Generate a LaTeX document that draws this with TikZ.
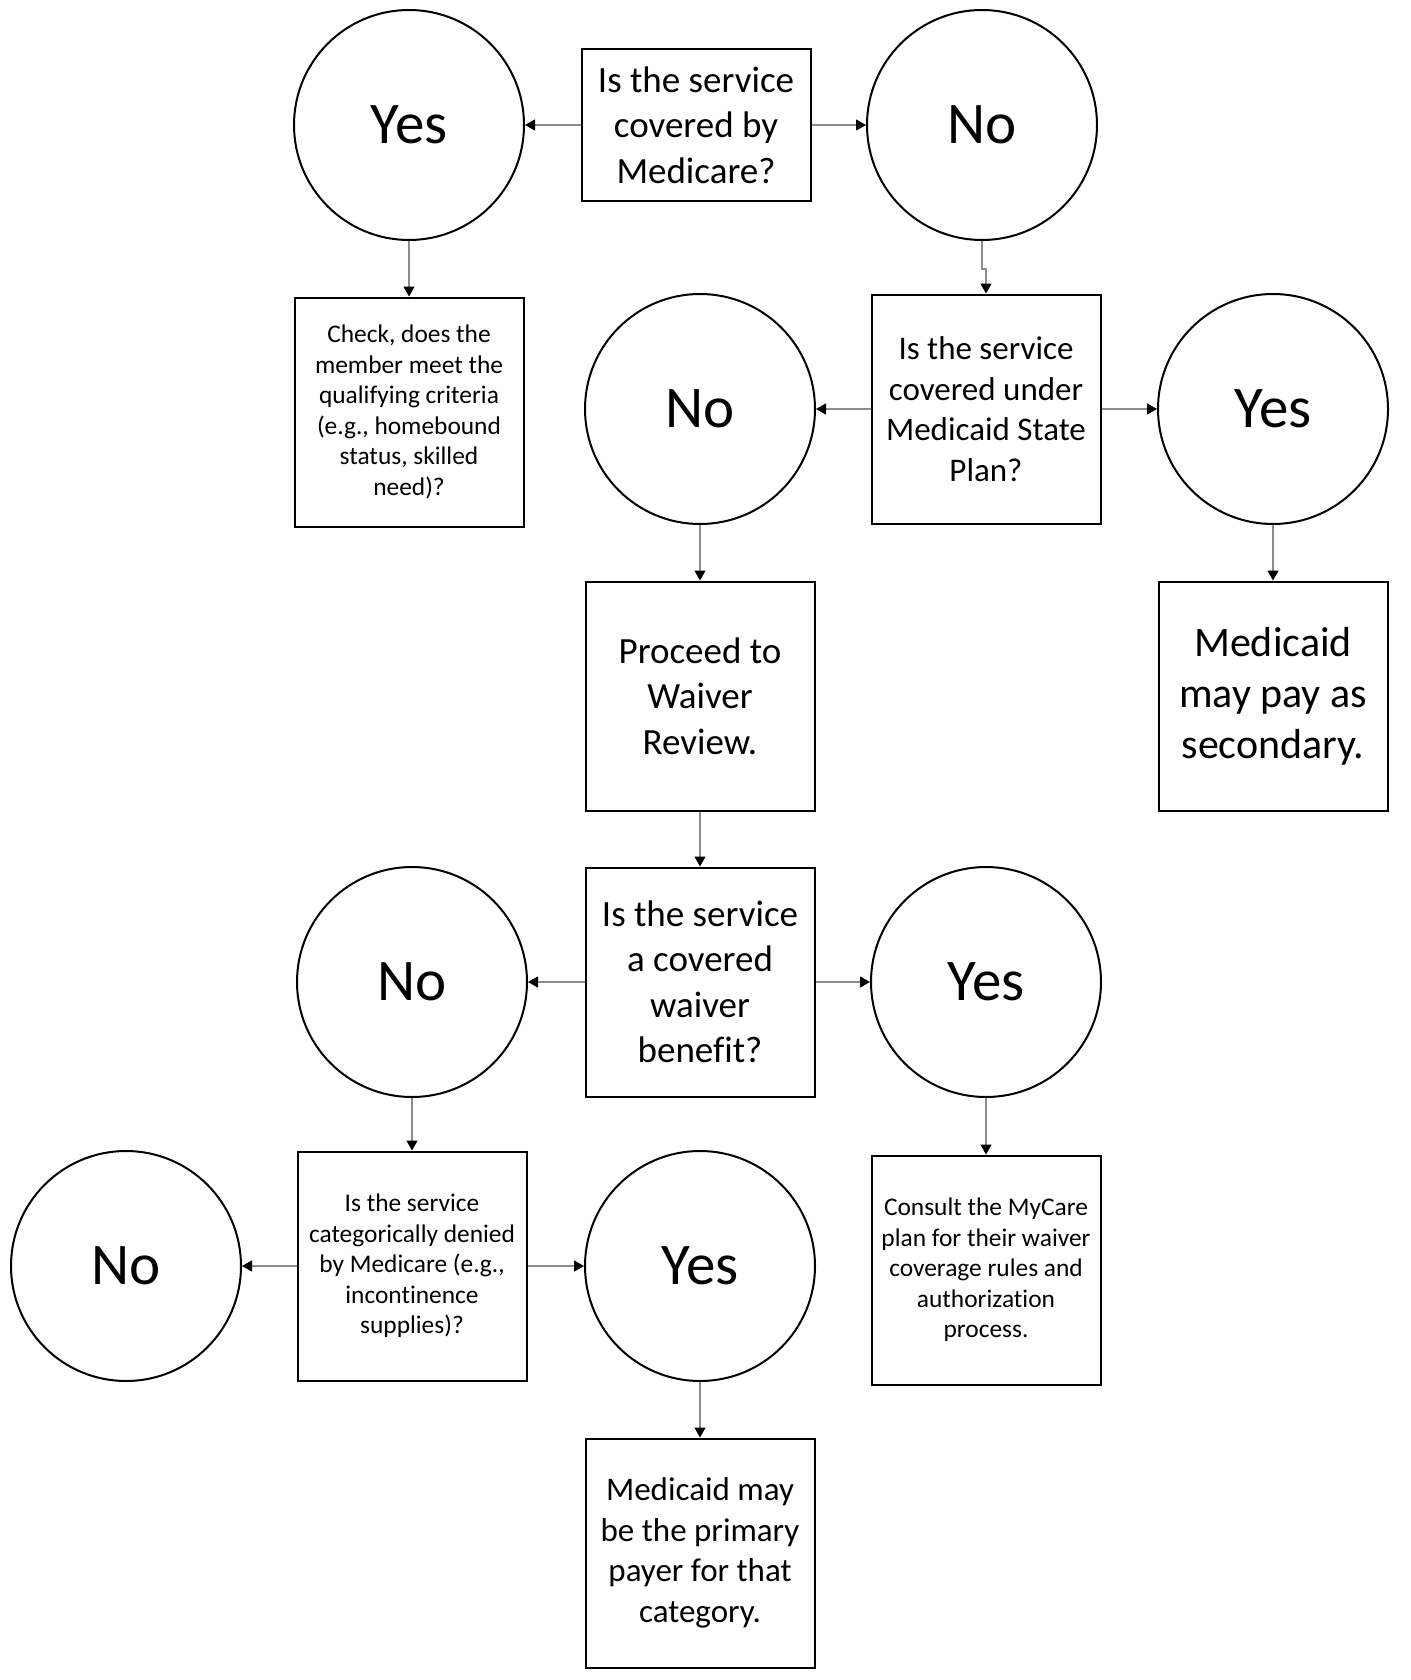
\documentclass[tikz,border=0pt]{standalone}
\usepackage{fontspec}
\setmainfont{Carlito}[Ligatures=NoCommon]
\usepackage{tikz}
\usetikzlibrary{arrows.meta, positioning}

\begin{document}
\begin{tikzpicture}[
    x=0.5pt, y=-0.5pt,
    ans/.style={circle, draw=black, line width=1pt, minimum size=115pt, inner sep=0pt, font=\fontsize{29.5}{35}\selectfont},
    qbox/.style={rectangle, draw=black, line width=1pt, minimum width=114.5pt, minimum height=114.5pt, align=center, inner sep=2pt},
    txtbig/.style={font=\fontsize{18.5}{22.75}\selectfont},
    txtmid/.style={font=\fontsize{16.5}{20.25}\selectfont},
    txtsmall/.style={font=\fontsize{12.7}{15.3}\selectfont},
    arr/.style={-{Triangle[length=5pt, width=5.5pt, color=black]}, draw=black!45, line width=0.6pt}
]
\useasboundingbox (0,0) rectangle (1410,1680);

\node[qbox, txtbig, minimum height=76pt] (medicare_q) at (696,125) {Is the service\\covered by\\Medicare?};
\node[ans] (yes_mc) at (409,125) {Yes};
\node[ans] (no_mc) at (982,125) {No};
\node[qbox, txtsmall] (check_crit) at (409,412) {Check, does the\\member meet the\\qualifying criteria\\(e.g., homebound\\status, skilled\\need)?};
\node[qbox, txtmid] (state_plan) at (986,409) {Is the service\\covered under\\Medicaid State\\Plan?};
\node[ans] (no_sp) at (700,409) {No};
\node[ans] (yes_sp) at (1273,409) {Yes};
\node[qbox, txtbig] (waiver_rev) at (700,696) {Proceed to\\Waiver\\Review.};
\node[qbox, font=\fontsize{21}{25.5}\selectfont] (secondary) at (1273,696) {Medicaid\\may pay as\\secondary.};
\node[qbox, txtbig] (waiver_q) at (700,982) {Is the service\\a covered\\waiver\\benefit?};
\node[ans] (no_wv) at (412,982) {No};
\node[ans] (yes_wv) at (986,982) {Yes};
\node[qbox, txtsmall] (denied_q) at (412,1266) {Is the service\\categorically denied\\by Medicare (e.g.,\\incontinence\\supplies)?};
\node[ans] (no_dn) at (126,1266) {No};
\node[ans] (yes_dn) at (700,1266) {Yes};
\node[qbox, txtsmall] (consult) at (986,1270) {Consult the MyCare\\plan for their waiver\\coverage rules and\\authorization\\process.};
\node[qbox, txtmid] (primary) at (700,1553) {Medicaid may\\be the primary\\payer for that\\category.};

\draw[arr] (medicare_q) -- (yes_mc);
\draw[arr] (medicare_q) -- (no_mc);
\draw[arr] (yes_mc) -- (check_crit);
\draw[arr] (no_mc.south) -- ++(0,28) -| (state_plan.north);
\draw[arr] (state_plan) -- (no_sp);
\draw[arr] (state_plan) -- (yes_sp);
\draw[arr] (no_sp) -- (waiver_rev);
\draw[arr] (yes_sp) -- (secondary);
\draw[arr] (waiver_rev) -- (waiver_q);
\draw[arr] (waiver_q) -- (no_wv);
\draw[arr] (waiver_q) -- (yes_wv);
\draw[arr] (no_wv) -- (denied_q);
\draw[arr] (yes_wv) -- (consult);
\draw[arr] (denied_q) -- (no_dn);
\draw[arr] (denied_q) -- (yes_dn);
\draw[arr] (yes_dn) -- (primary);

\end{tikzpicture}
\end{document}
